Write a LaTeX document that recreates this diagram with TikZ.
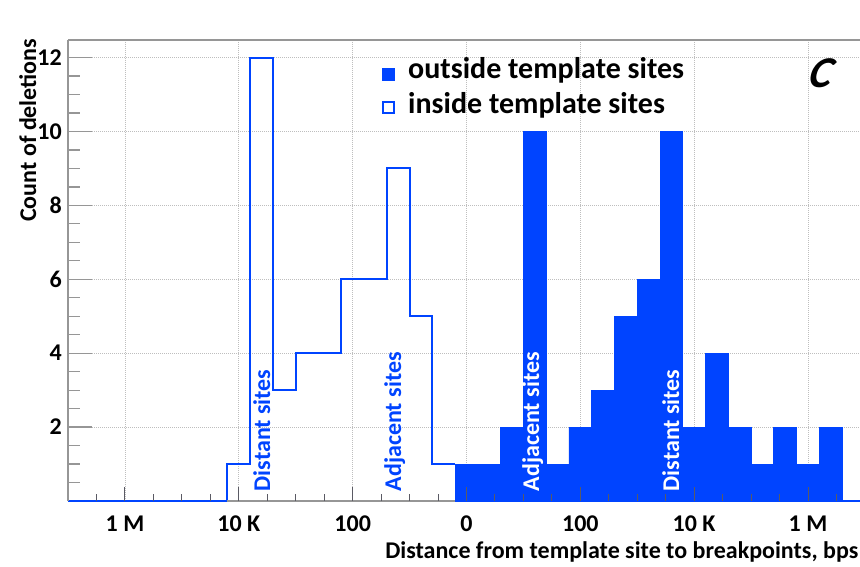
\documentclass[tikz,border=0pt]{standalone}
\usepackage{fontspec}
\setmainfont{Carlito}
\definecolor{histblue}{RGB}{0,68,255}
\definecolor{gridgray}{RGB}{190,190,190}
\definecolor{axisgray}{RGB}{150,150,150}
\definecolor{tickgray}{RGB}{90,90,100}
\tikzset{
  gridline/.style={gridgray, line width=0.8pt, dash pattern=on 1pt off 1pt},
  axisline/.style={axisgray, line width=1.2pt},
  tickline/.style={tickgray, line width=1pt},
  ytickmajor/.style={axisgray, line width=1.4pt},
  labeltext/.style={inner sep=0pt, font=\fontsize{24}{28}\selectfont\bfseries},
  legendtext/.style={inner sep=0pt, font=\fontsize{30}{34}\selectfont\bfseries},
  sitetext/.style={inner sep=0pt, rotate=90, anchor=base west, font=\fontsize{24}{28}\selectfont\bfseries},
  outline/.style={histblue, line width=2pt, line join=miter},
  filled/.style={fill=histblue, draw=histblue, line width=0.8pt},
  bins/.style={shift={(455.12,501)}, xscale=22.767, yscale=-36.95}
}
\begin{document}
\begin{tikzpicture}[x=1pt, y=-1pt,
  declare function={bx(\k)=455.12+22.767*\k; vy(\v)=501-36.95*\v;}]
\useasboundingbox (0,0) rectangle (860,567);
\fill[white] (0,0) rectangle (860,567);

% dotted grid
\foreach \i in {-3,...,3}
  \draw[gridline] ({bx(0.5+5*\i)},40) -- ({bx(0.5+5*\i)},501);
\foreach \v in {2,4,...,12}
  \draw[gridline] (68,{vy(\v)}) -- (860,{vy(\v)});

% frame
\draw[axisline] (68,40) -- (860,40);

% histograms, one bin per unit
\begin{scope}[bins]
  % outside template sites
  \draw[filled] (0,0) -- (0,1) -- (2,1) -- (2,2) -- (3,2) -- (3,10) -- (4,10)
    -- (4,1) -- (5,1) -- (5,2) -- (6,2) -- (6,3) -- (7,3) -- (7,5) -- (8,5)
    -- (8,6) -- (9,6) -- (9,10) -- (10,10) -- (10,2) -- (11,2) -- (11,4)
    -- (12,4) -- (12,2) -- (13,2) -- (13,1) -- (14,1) -- (14,2) -- (15,2)
    -- (15,1) -- (16,1) -- (16,2) -- (17,2) -- (17,0) -- cycle;
  \draw[outline] (17,0) -- (17.8,0);
  % inside template sites
  \draw[outline] (-17,0) -- (-10,0) -- (-10,1) -- (-9,1) -- (-9,12) -- (-8,12)
    -- (-8,3) -- (-7,3) -- (-7,4) -- (-5,4) -- (-5,6) -- (-3,6) -- (-3,9)
    -- (-2,9) -- (-2,5) -- (-1,5) -- (-1,1) -- (0,1);
\end{scope}

% axes
\draw[axisline] (68,40) -- (68,501);
\draw[axisline] (227.45,501) -- (455.12,501);

% x ticks
\foreach \m in {-13,...,13}
  \draw[tickline] ({bx(0.5+1.25*\m)},501) -- ++(0,-7);
\foreach \i in {-3,...,3}
  \draw[tickline] ({bx(0.5+5*\i)},501) -- ++(0,-14);

% y ticks
\foreach \v in {0.5,1.0,...,12.0}
  \draw[axisline] (68,{vy(\v)}) -- ++(12,0);
\foreach \v in {2,4,...,12}
  \draw[ytickmajor] (68,{vy(\v)}) -- ++(24,0);

% y tick labels
\foreach \v in {2,4,...,12}
  \node[labeltext, anchor=east] (ylab\v) at (62,{vy(\v)}) {\v};

% x tick labels
\node[labeltext, anchor=base] (xl1) at ({bx(-14.5)},531) {1 M};
\node[labeltext, anchor=base] (xl2) at ({bx(-9.5)},531) {10 K};
\node[labeltext, anchor=base] (xl3) at ({bx(-4.5)},531) {100};
\node[labeltext, anchor=base] (xl4) at ({bx(0.5)},531) {0};
\node[labeltext, anchor=base] (xl5) at ({bx(5.5)},531) {100};
\node[labeltext, anchor=base] (xl6) at ({bx(10.5)},531) {10 K};
\node[labeltext, anchor=base] (xl7) at ({bx(15.5)},531) {1 M};

% axis titles
\node[labeltext, anchor=base east] (xtitle) at (858.5,558)
  {Distance from template site to breakpoints, bps};
\node[labeltext, rotate=90, anchor=base west] (ytitle) at (36,222)
  {Count of deletions};

% site labels on the bars
\node[sitetext, histblue] (dinside) at (270,491.5) {Distant sites};
\node[sitetext, histblue] (ainside) at (401,491.5) {Adjacent sites};
\node[sitetext, white] (aoutside) at (539,491.5) {Adjacent sites};
\node[sitetext, white] (doutside) at (679,491.5) {Distant sites};

% legend
\fill[histblue] (382,68) rectangle (395,81);
\draw[histblue, line width=2pt] (383,102) rectangle (394,113);
\node[legendtext, anchor=base west] (legout) at (408,79) {outside template sites};
\node[legendtext, anchor=base west] (legin) at (408,114) {inside template sites};

% panel letter
\node[inner sep=0pt, xslant=0.22, font=\fontsize{44}{48}\selectfont\bfseries\itshape] (panel) at (822.5,73) {C};
\end{tikzpicture}
\end{document}
